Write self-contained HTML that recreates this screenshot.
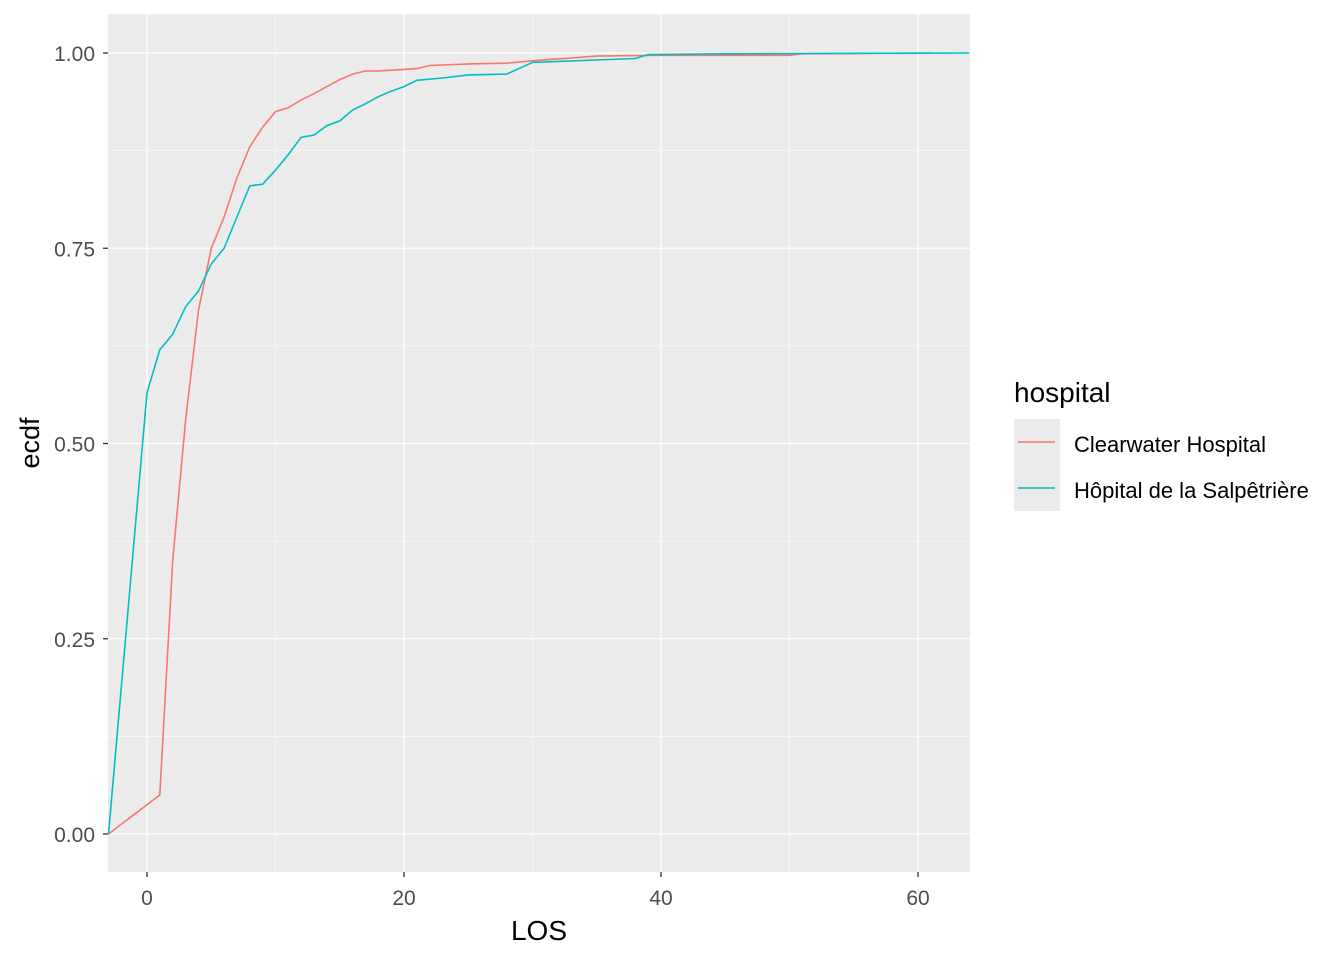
<!DOCTYPE html>
<html><head><meta charset="utf-8"><style>
html,body{margin:0;padding:0;background:#fff;}
svg{display:block;font-family:"Liberation Sans",Arial,sans-serif;}
</style></head><body>
<svg id="c" width="1344" height="960" viewBox="0 0 1344 960">
<rect x="108" y="14" width="862" height="858" fill="#ebebeb"/>
<g id="grid"></g><g id="series"></g><g id="axes"></g>
<text x="539" y="940" font-size="28" text-anchor="middle" fill="#000">LOS</text>
<text transform="translate(39,443) rotate(-90)" font-size="27" text-anchor="middle" fill="#000">ecdf</text>
<g>
<text x="1014" y="402" font-size="28" fill="#000">hospital</text>
<rect x="1014" y="419" width="46" height="92" fill="#ebebeb"/>
<line x1="1018" x2="1055" y1="442" y2="442" stroke="#F8766D" stroke-width="1.6"/>
<line x1="1018" x2="1055" y1="488" y2="488" stroke="#00BFC4" stroke-width="1.6"/>
<text x="1074" y="452" font-size="22" fill="#000">Clearwater Hospital</text>
<text x="1074" y="498" font-size="22" fill="#000">Hôpital de la Salpêtrière</text>
</g>
</svg>
<script>
const xTicks=[0,20,40,60];
const yTicks=[0,0.25,0.5,0.75,1];
const yTickLabels=["0.00","0.25","0.50","0.75","1.00"];
const redX=[-3,1,2,3,4,5,6,7,8,9,10,11,12,13,14,15,16,17,18,19,20,21,22,25,28,30,35,40,50,51,61];
const redY=[0,0.05,0.35,0.53,0.67,0.75,0.79,0.84,0.88,0.905,0.925,0.93,0.94,0.948,0.957,0.966,0.973,0.977,0.977,0.978,0.979,0.98,0.984,0.986,0.987,0.99,0.996,0.997,0.997,0.999,1.0];
const cyanX=[-3,0,1,2,3,4,5,6,7,8,9,10,11,12,13,14,15,16,17,18,19,20,21,23,25,28,30,38,39,45,64];
const cyanY=[0,0.565,0.62,0.64,0.675,0.695,0.73,0.75,0.79,0.83,0.832,0.85,0.87,0.892,0.895,0.907,0.913,0.927,0.935,0.944,0.951,0.957,0.965,0.968,0.972,0.973,0.988,0.993,0.998,0.999,1.0];
const NS="http://www.w3.org/2000/svg";
const sx=v=>147+(v-0)*(918-147)/60;
const sy=v=>834-v*(834-53);
function mk(tag,attrs,parent){const e=document.createElementNS(NS,tag);for(const k in attrs)e.setAttribute(k,attrs[k]);parent.appendChild(e);return e;}
const grid=document.getElementById('grid'),axes=document.getElementById('axes'),series=document.getElementById('series');
for(let i=0;i<xTicks.length+1;i++){const v=(i===0?-10:xTicks[i-1]+10);const px=sx(v);if(px>108&&px<970){const l=mk('line',{x1:px,x2:px,y1:14,y2:872,stroke:'#fff','stroke-width':0.6},grid);

}}
for(let i=0;i<yTicks.length-1;i++){const py=sy((yTicks[i]+yTicks[i+1])/2);const l=mk('line',{x1:108,x2:970,y1:py,y2:py,stroke:'#fff','stroke-width':0.6},grid);

}
xTicks.forEach(v=>{const px=sx(v);
const g=mk('line',{x1:px,x2:px,y1:14,y2:872,stroke:'#fff','stroke-width':1.3},grid);


const t=mk('line',{x1:px,x2:px,y1:872,y2:877,stroke:'#333','stroke-width':1.3},axes);


const tx=mk('text',{x:px,y:905,'font-size':21,'text-anchor':'middle',fill:'#4d4d4d'},axes);tx.textContent=v;

});
yTicks.forEach((v,i)=>{const py=sy(v);
const g=mk('line',{x1:108,x2:970,y1:py,y2:py,stroke:'#fff','stroke-width':1.3},grid);


const t=mk('line',{x1:103,x2:108,y1:py,y2:py,stroke:'#333','stroke-width':1.3},axes);


const tx=mk('text',{x:95,y:py+8,'font-size':21,'text-anchor':'end',fill:'#4d4d4d'},axes);tx.textContent=yTickLabels[i];

});
function line(xs,ys,col,name){const pts=xs.map((x,i)=>sx(x).toFixed(1)+','+sy(ys[i]).toFixed(1)).join(' ');
const p=mk('polyline',{points:pts,fill:'none',stroke:col,'stroke-width':1.6},series);

}
line(redX,redY,'#F8766D','clearwater-ecdf-line');
line(cyanX,cyanY,'#00BFC4','salpetriere-ecdf-line');
</script>
</body></html>
